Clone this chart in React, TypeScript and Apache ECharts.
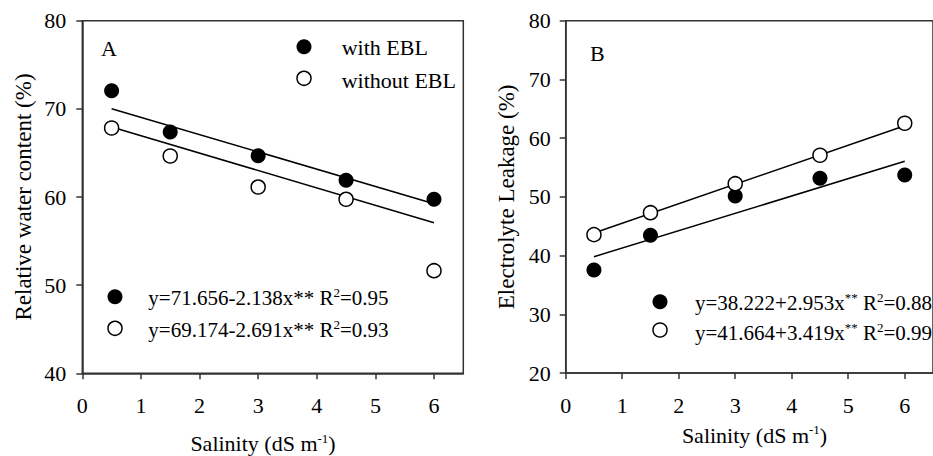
import React, { useEffect, useRef } from 'react';
import * as echarts from 'echarts';

const salinity = [0.5, 1.5, 3, 4.5, 6];
const rwcWith = [72.06, 67.37, 64.69, 61.9, 59.74];
const rwcWithout = [67.83, 64.65, 61.13, 59.74, 51.64];
const rwcFitWith = [[0.5, 70.02], [6, 59.24]];
const rwcFitWithout = [[0.5, 67.94], [6, 57.08]];
const elWith = [37.54, 43.45, 50.15, 53.16, 53.72];
const elWithout = [43.56, 47.3, 52.24, 57.08, 62.53];
const elFitWith = [[0.5, 39.81], [6, 56.06]];
const elFitWithout = [[0.5, 43.85], [6, 62.1]];
const xTicks = [0, 1, 2, 3, 4, 5, 6];
const yTicksA = [40, 50, 60, 70, 80];
const yTicksB = [20, 30, 40, 50, 60, 70, 80];
const legendLabels = ['with EBL', 'without EBL'];
const eqA = ['y=71.656-2.138x** R{s|2}=0.95', 'y=69.174-2.691x** R{s|2}=0.93'];
const eqB = ['y=38.222+2.953x{s|**} R{s|2}=0.88', 'y=41.664+3.419x{s|**} R{s|2}=0.99'];
const xTitle = 'Salinity (dS m{s|-1})';
const yTitleA = 'Relative water content (%)';
const yTitleB = 'Electrolyte Leakage (%)';

const FONT = 'Liberation Serif';
const AX = '#333';

export default function App() {
  const ref = useRef<HTMLDivElement>(null);
  useEffect(() => {
    if (!ref.current) return;
    const chart = echarts.init(ref.current, undefined, { renderer: 'svg' });
    const pts = (ys: number[]) => salinity.map((x, i) => [x, ys[i]]);
    const sup = { fontSize: 13, fontFamily: FONT, fill: '#000', color: '#000', padding: [0, 0, 11, 0] };
    const xAxisBase = (gridIndex: number) => ({
      type: 'value', gridIndex, min: 0, max: 6.5,
      axisLine: { lineStyle: { color: AX, width: 1.5 } },
      axisTick: { inside: false, length: 6, customValues: xTicks, lineStyle: { color: AX, width: 1.5 } },
      axisLabel: { show: false },
      splitLine: { show: false },
    });
    const yAxisBase = (gridIndex: number, min: number) => ({
      type: 'value', gridIndex, min, max: 80, interval: 10,
      axisLine: { lineStyle: { color: AX, width: 1.5 } },
      axisTick: { inside: false, length: 6, lineStyle: { color: AX, width: 1.5 } },
      axisLabel: { show: false },
      splitLine: { show: false },
    });
    const filled = (xi: number, data: number[][]) => ({
      type: 'scatter', xAxisIndex: xi, yAxisIndex: xi, data, symbol: 'circle', symbolSize: 15,
      itemStyle: { color: '#000', opacity: 1 }, z: 5,
    });
    const open = (xi: number, data: number[][]) => ({
      type: 'scatter', xAxisIndex: xi, yAxisIndex: xi, data, symbol: 'circle', symbolSize: 14,
      itemStyle: { color: '#fff', borderColor: '#000', borderWidth: 1.5, opacity: 1 }, z: 5,
    });
    const fit = (xi: number, data: number[][]) => ({
      type: 'line', xAxisIndex: xi, yAxisIndex: xi, data, showSymbol: false, symbol: 'none',
      lineStyle: { color: '#000', width: 1.5 }, z: 3,
    });
    const txt = (x: number, y: number, text: string, size = 21, align = 'left', rotation = 0) => ({
      type: 'text', x, y, rotation,
      style: { text, fill: '#000', fontSize: size, fontFamily: FONT, verticalAlign: 'middle', align, rich: { s: sup } },
    });
    const dot = (cx: number, cy: number, isFilled: boolean) => ({
      type: 'circle', shape: { cx, cy, r: isFilled ? 7.5 : 7 },
      style: isFilled ? { fill: '#000' } : { fill: '#fff', stroke: '#000', lineWidth: 1.5 },
    });
    chart.setOption({
      animation: false,
      grid: [
        { left: 82.3, top: 20.7, width: 381, height: 352.6, show: true, borderColor: AX, borderWidth: 1.5 },
        { left: 565.7, top: 20.7, width: 377.7, height: 352.3, show: true, borderColor: AX, borderWidth: 1.5 },
      ],
      xAxis: [xAxisBase(0), xAxisBase(1)],
      yAxis: [yAxisBase(0, 40), yAxisBase(1, 20)],
      series: [
        fit(0, rwcFitWith), fit(0, rwcFitWithout),
        filled(0, pts(rwcWith)), open(0, pts(rwcWithout)),
        fit(1, elFitWith), fit(1, elFitWithout),
        filled(1, pts(elWith)), open(1, pts(elWithout)),
      ],
    });
    const px = (g: number, x: number, y: number) => chart.convertToPixel({ gridIndex: g }, [x, y]) as number[];
    const labels: any[] = [];
    // tick labels via axis scales
    xTicks.forEach((v) => {
      labels.push(txt(px(0, v, 40)[0], 405, String(v), 22, 'center'));
      labels.push(txt(px(1, v, 20)[0], 405, String(v), 22, 'center'));
    });
    yTicksA.forEach((v) => labels.push(txt(px(0, 0, v)[0] - 16, px(0, 0, v)[1], String(v), 22, 'right')));
    yTicksB.forEach((v) => labels.push(txt(px(1, 0, v)[0] - 15, px(1, 0, v)[1], String(v), 22, 'right')));
    chart.setOption({
      graphic: [
        ...labels,
        txt(263, 443.5, xTitle, 22, 'center'),
        txt(754.5, 435, xTitle, 22, 'center'),
        txt(23, px(0, 0, 60)[1], yTitleA, 23, 'center', Math.PI / 2),
        txt(506, px(1, 0, 50)[1], yTitleB, 23, 'center', Math.PI / 2),
        txt(101, 48, 'A', 22),
        txt(590, 53, 'B', 22),
        dot(304, 46.7, true), txt(341.7, 47.5, legendLabels[0], 22),
        dot(304, 78.3, false), txt(341.7, 80, legendLabels[1], 22),
        dot(115, 296.7, true), txt(148.3, 298, eqA[0]),
        dot(115, 328.3, false), txt(148.3, 330, eqA[1]),
        dot(660, 301.7, true), txt(695, 303, eqB[0]),
        dot(660, 330, false), txt(695, 333, eqB[1]),
      ],
    });
    return () => chart.dispose();
  }, []);
  return <div ref={ref} style={{ position: 'fixed', left: 0, top: 0, width: 933, height: 456, background: '#fff' }} />;
}
